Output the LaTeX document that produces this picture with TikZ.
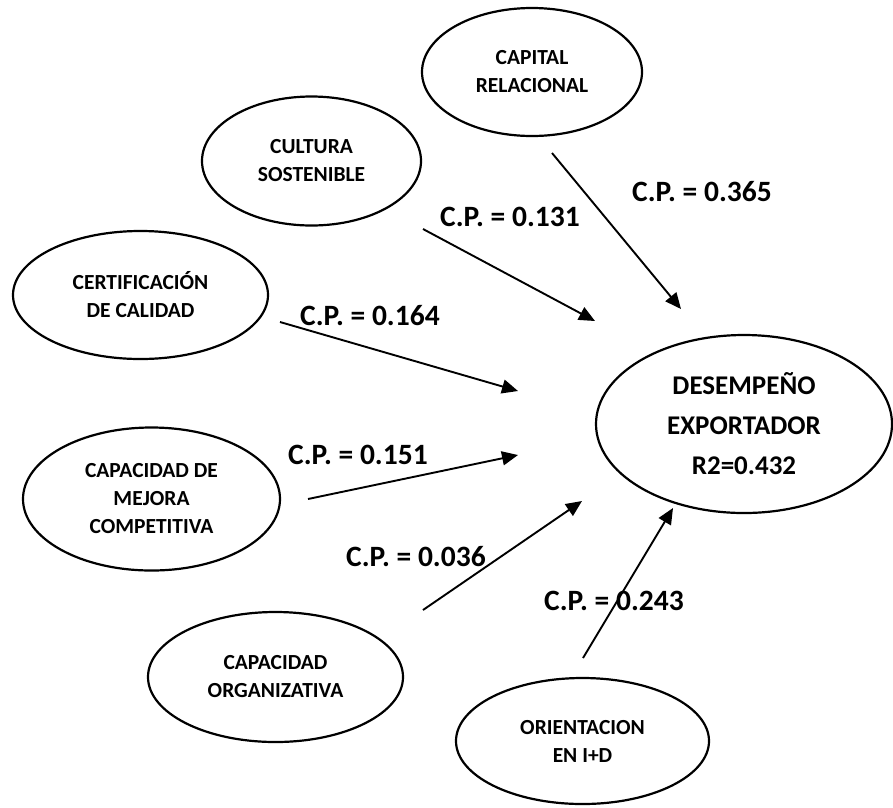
\documentclass[tikz,border=0pt]{standalone}
\usepackage{fontspec}
\setmainfont{Carlito}
\usetikzlibrary{arrows.meta,shapes.geometric}

\begin{document}
\begin{tikzpicture}[x=1pt,y=-1pt]
	  \tikzstyle{factor} = [ellipse, draw=black, line width=2.2pt, inner sep=0pt, align=center, font=\fontsize{21.5}{28}\selectfont\bfseries]
	  \tikzstyle{coef} = [inner sep=0pt, font=\fontsize{29.5}{32}\selectfont\bfseries]
	  \tikzstyle{effect} = [line width=1.9pt, -{Triangle[length=16pt,width=14pt]}]
	  \useasboundingbox (0,0) rectangle (893,807);
	  \node (capital)[factor, minimum width=220pt, minimum height=128pt] at (532,72) {CAPITAL\\RELACIONAL};
	  \node (cultura)[factor, minimum width=219pt, minimum height=129pt] at (311.5,161) {CULTURA\\SOSTENIBLE};
	  \node (certif)[factor, minimum width=255pt, minimum height=128pt] at (140.5,295) {CERTIFICACIÓN\\DE CALIDAD};
	  \node (mejora)[factor, minimum width=257pt, minimum height=143pt] at (151.5,499) {CAPACIDAD DE\\MEJORA\\COMPETITIVA};
	  \node (organiz)[factor, minimum width=255pt, minimum height=130pt] at (275.5,677) {CAPACIDAD\\ORGANIZATIVA};
	  \node (orient)[factor, minimum width=253pt, minimum height=126pt] at (582.5,741) {ORIENTACION\\EN I+D};
	  \node (desemp)[factor, minimum width=296pt, minimum height=178pt, font=\fontsize{27}{40}\selectfont\bfseries] at (744,424) {DESEMPEÑO\\EXPORTADOR\\R2=0.432};
	  % free ends of the arrows
	  \coordinate (capital-a) at (552,153);
	  \coordinate (capital-b) at (681,309);
	  \coordinate (cultura-a) at (423,229);
	  \coordinate (cultura-b) at (595,321);
	  \coordinate (certif-a) at (280,322);
	  \coordinate (certif-b) at (518,391);
	  \coordinate (mejora-a) at (308,499);
	  \coordinate (mejora-b) at (518,455);
	  \coordinate (organiz-a) at (423,610);
	  \coordinate (organiz-b) at (582,501);
	  \coordinate (orient-a) at (583,658);
	  \coordinate (orient-b) at (673,508);
	  \foreach \from in {capital,cultura,certif,mejora,organiz,orient}
	    \draw [effect] (\from-a) -- (\from-b);
	  \node (cp365)[coef] at (702,192) {C.P. = 0.365};
	  \node (cp131)[coef] at (510,217) {C.P. = 0.131};
	  \node (cp164)[coef] at (370,316) {C.P. = 0.164};
	  \node (cp151)[coef] at (358,455) {C.P. = 0.151};
	  \node (cp036)[coef] at (416,557) {C.P. = 0.036};
	  \node (cp243)[coef] at (614,601) {C.P. = 0.243};
	\end{tikzpicture}
\end{document}
